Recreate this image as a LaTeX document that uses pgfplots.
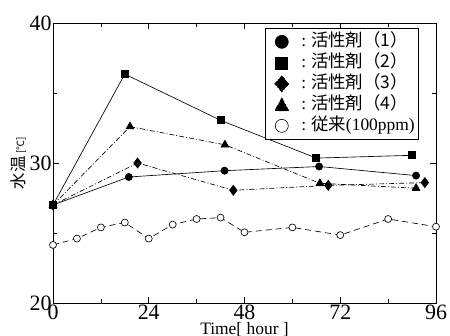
\documentclass[border=0pt]{standalone}
\usepackage{pgfplots}
\pgfplotsset{compat=1.18}
\usepackage{fontspec}
\setmainfont{Liberation Serif}
\newfontfamily\cjk{Noto Sans CJK JP}
\newcommand{\lsp}{\path[draw=none,fill=none] (0,0) rectangle (32bp,0);}
\begin{document}
\begin{tikzpicture}
\begin{axis}[
  scale only axis, width=383bp, height=280bp,
  xmin=0, xmax=96, ymin=20, ymax=40,
  xtick={0,24,48,72,96}, minor x tick num=1,
  ytick={20,30,40}, minor y tick num=1,
  tick align=inside,
  major tick length=6bp, minor tick length=4bp,
  axis line style={line width=0.8pt},
  every tick/.style={black, line width=0.6pt},
  /pgf/number format/assume math mode=true,
  tick label style={font=\fontsize{22}{24}\selectfont},
  xticklabel style={yshift=2bp},
  yticklabel style={xshift=2bp},
  xlabel={\fontsize{17.5}{18}\selectfont Time[ hour ]},
  xlabel style={at={(rel axis cs:0.5,0)}, anchor=base, yshift=-31bp},
  ylabel={{\cjk\fontsize{16.5}{17}\selectfont 水温}\ {\cjk\fontsize{10}{11}\selectfont [℃]}},
  ylabel style={yshift=-3bp},
  legend style={at={(rel axis cs:0.5535,0.982)}, anchor=north west,
     draw=black, line width=0.6pt, inner xsep=2bp, inner ysep=3bp,
     font=\fontsize{17.5}{20}\selectfont, row sep=0bp,
     nodes={text height=13bp, text depth=4bp, inner ysep=2bp},
     legend cell align=left},
  every axis plot/.append style={line width=0.65pt},
]
\coordinate (o) at (rel axis cs:0,0);
\addplot[black, solid, mark=*, mark size=3.6bp,
  legend image code/.code={\lsp\fill[black] (14.5bp,0) circle (6.5bp);}]
  coordinates {(0,27) (19,29.0) (43,29.45) (66.7,29.75) (91,29.1)};
\addlegendentry{:\hspace{5bp}{\cjk 活性剤（1）}}
\addplot[black, solid, mark=square*, mark size=3.5bp,
  legend image code/.code={\lsp\fill[black] (14.5bp-6bp,-6bp) rectangle (14.5bp+6bp,6bp);}]
  coordinates {(0,27) (18,36.35) (42,33.05) (66,30.35) (90,30.55)};
\addlegendentry{:\hspace{5bp}{\cjk 活性剤（2）}}
\addplot[black, dash pattern=on 5bp off 2bp on 1bp off 2bp, mark=diamond*, mark size=5bp, mark options={solid},
  legend image code/.code={\lsp\fill[black] (14.5bp,8bp) -- (14.5bp+7bp,0) -- (14.5bp,-8bp) -- (14.5bp-7bp,0) -- cycle;}]
  coordinates {(0,27) (21.2,30.0) (45.2,28.05) (69,28.4) (93.2,28.6)};
\addlegendentry{:\hspace{5bp}{\cjk 活性剤（3）}}
\addplot[black, dash pattern=on 5bp off 2bp on 1bp off 2bp, mark=triangle*, mark size=4.5bp, mark options={solid},
  legend image code/.code={\lsp\fill[black] (14.5bp,7bp) -- (14.5bp+7bp,-6bp) -- (14.5bp-7bp,-6bp) -- cycle;}]
  coordinates {(0,27) (19.3,32.6) (43.1,31.3) (66.9,28.55) (91,28.2)};
\addlegendentry{:\hspace{5bp}{\cjk 活性剤（4）}}
\addplot[black, dash pattern=on 6bp off 4bp, mark=*, mark size=3.5bp, mark options={solid, fill=white},
  legend image code/.code={\lsp\draw[black, solid, line width=0.6pt, fill=white] (14.5bp,0) circle (6.5bp);}]
  coordinates {(0,24.15) (6,24.6) (12,25.4) (18,25.75) (24,24.6) (30,25.6) (36,26.0) (42,26.1) (48,25.05) (60,25.4) (72,24.85) (84,26.0) (96,25.45)};
\addlegendentry{:\hspace{5bp}{\cjk 従来}(100ppm)\hspace{10bp}}
\end{axis}
\pgfresetboundingbox
\path (o) ++(-53bp,-33bp) rectangle ++(450bp,336bp);
\end{tikzpicture}
\end{document}
